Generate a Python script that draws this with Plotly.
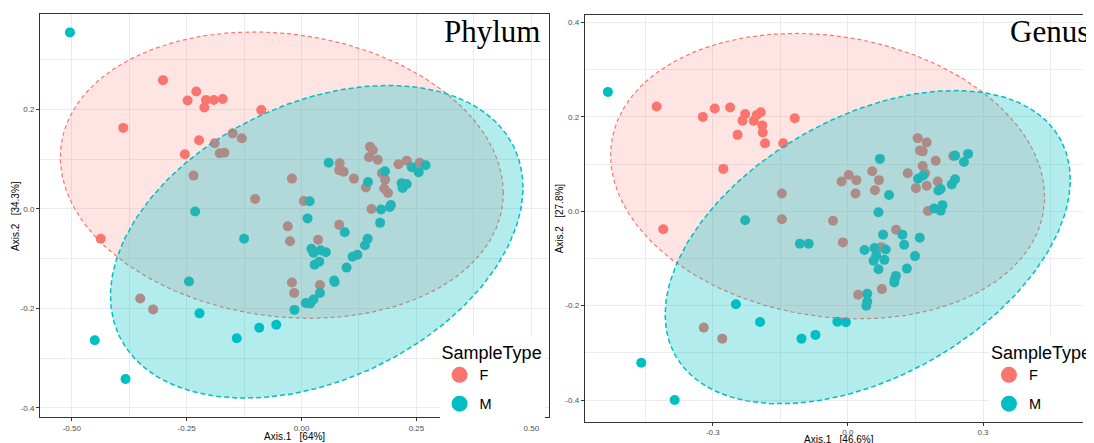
import numpy as np
import plotly.graph_objects as go

# ---------------- data ----------------
PHYLUM_F_X = [-0.3015, -0.229, -0.248, -0.208, -0.191, -0.1715, -0.2115, -0.0877, -0.388, -0.223,
              -0.15, -0.13, -0.189, -0.254, -0.178, -0.168, -0.235, -0.021, -0.101, 0.005,
              -0.437, -0.030, -0.025, 0.036, 0.082, -0.021, -0.016, 0.040, -0.351, -0.323,
              0.083, 0.082, 0.0915, 0.114, 0.140, 0.149, 0.155, 0.147, 0.166, 0.175,
              0.182, 0.180, 0.188, 0.152, 0.211, 0.229, 0.257]
PHYLUM_F_Y = [0.259, 0.236, 0.218, 0.219, 0.219, 0.221, 0.204, 0.199, 0.163, 0.138,
              0.152, 0.142, 0.132, 0.110, 0.112, 0.113, 0.067, 0.061, 0.020, 0.016,
              -0.060, -0.035, -0.065, -0.062, -0.032, -0.148, -0.169, -0.153, -0.180, -0.202,
              0.092, 0.078, 0.075, 0.061, 0.043, 0.125, 0.118, 0.104, 0.099, 0.072,
              0.059, 0.041, 0.032, 0.000, 0.090, 0.097, 0.093]

PHYLUM_M_X = [-0.504, 0.059, 0.1815, 0.1446, 0.240, 0.255, 0.270, 0.2177, 0.229, 0.220,
              0.1946, 0.192, 0.173, 0.0177, 0.013, -0.2315, -0.125, 0.094, 0.171, 0.144,
              0.138, 0.1215, 0.111, 0.098, 0.0215, 0.026, 0.0415, 0.053, 0.0285, 0.0385,
              0.071, 0.072, 0.040, 0.026, 0.009, 0.019, -0.0154, -0.245, -0.222, -0.092,
              -0.055, -0.141, -0.450, -0.383]
PHYLUM_M_Y = [0.355, 0.093, 0.0756, 0.054, 0.084, 0.074, 0.088, 0.0515, 0.050, 0.042,
              0.008, 0.004, -0.001, 0.0154, -0.019, -0.005, -0.060, -0.047, -0.028, -0.060,
              -0.073, -0.092, -0.096, -0.118, -0.080, -0.088, -0.083, -0.087, -0.112, -0.106,
              -0.144, -0.147, -0.169, -0.182, -0.189, -0.190, -0.203, -0.146, -0.210, -0.239,
              -0.233, -0.260, -0.264, -0.342]

GENUS_F_X = [-0.4247, -0.322, -0.2955, -0.2615, -0.228, -0.234, -0.209, -0.2025, -0.1935, -0.190,
             -0.189, -0.245, -0.184, -0.1436, -0.118, -0.2766, -0.410, -0.1466, -0.1466, -0.033,
             -0.014, 0.002, 0.019, 0.017, -0.011, 0.054, 0.069, 0.060, 0.107, 0.074,
             0.0756, 0.0227, 0.155, 0.175, 0.160, 0.166, 0.166, 0.195, 0.133, 0.1715,
             0.151, 0.175, 0.1995, 0.1776, 0.234, -0.320, -0.279]
GENUS_F_Y = [0.222, 0.200, 0.218, 0.220, 0.206, 0.192, 0.192, 0.204, 0.210, 0.182,
             0.167, 0.162, 0.144, 0.144, 0.197, 0.0898, -0.038, 0.0375, -0.017, -0.020,
             0.063, 0.077, 0.066, 0.0375, -0.066, 0.085, 0.066, 0.0445, -0.039, -0.076,
             -0.165, -0.177, 0.155, 0.146, 0.129, 0.127, 0.096, 0.107, 0.0806, 0.0806,
             0.049, 0.054, 0.063, 0.0007, 0.117, -0.2466, -0.270]

GENUS_M_X = [-0.5328, -0.4587, -0.3846, -0.228, -0.2486, -0.195, -0.1066, -0.087, -0.103, -0.072,
             -0.0234, -0.0045, 0.071, 0.0914, 0.068, 0.078, 0.037, 0.059, 0.084, 0.063,
             0.057, 0.081, 0.068, 0.121, 0.125, 0.1595, 0.149, 0.131, 0.1066, 0.104,
             0.103, 0.043, 0.043, 0.041, 0.1557, 0.167, 0.201, 0.206, 0.191, 0.206,
             0.210, 0.2305, 0.238, 0.238, 0.2577, 0.2668]
GENUS_M_Y = [0.253, -0.321, -0.400, -0.019, -0.197, -0.2346, -0.0686, -0.0686, -0.270, -0.262,
             -0.234, -0.235, 0.111, 0.0346, -0.002, -0.0495, -0.082, -0.078, -0.081, -0.093,
             -0.105, -0.103, -0.123, -0.0495, -0.071, -0.056, -0.095, -0.1215, -0.137, -0.144,
             -0.151, -0.175, -0.1915, -0.200, 0.069, 0.076, 0.044, 0.047, 0.0057, 0.0014,
             0.013, 0.057, 0.068, 0.118, 0.1046, 0.1216]

# ellipse parameters (centre and shape matrix)
PHYLUM_F_ELLIPSE_CENTER = [-0.043, 0.068]
PHYLUM_F_ELLIPSE_SHAPE = [[0.2323, -0.01735], [-0.01735, 0.0829]]
PHYLUM_M_ELLIPSE_CENTER = [0.033, -0.066]
PHYLUM_M_ELLIPSE_SHAPE = [[0.2014, 0.0489], [0.0489, 0.0988]]
GENUS_F_ELLIPSE_CENTER = [-0.045, 0.0745]
GENUS_F_ELLIPSE_SHAPE = [[0.2321, -0.0212], [-0.0212, 0.0915]]
GENUS_M_ELLIPSE_CENTER = [0.044, -0.076]
GENUS_M_ELLIPSE_SHAPE = [[0.2022, 0.0643], [0.0643, 0.1102]]

GROUPS = ["F", "M"]
PANEL_TITLES = ["Phylum", "Genus"]
PHYLUM_X_TICKS = [-0.5, -0.25, 0.0, 0.25, 0.5]
PHYLUM_X_TICKTEXT = ["-0.50", "-0.25", "0.00", "0.25", "0.50"]
PHYLUM_Y_TICKS = [-0.4, -0.2, 0.0, 0.2]
PHYLUM_Y_TICKTEXT = ["-0.4", "-0.2", "0.0", "0.2"]
GENUS_X_TICKS = [-0.3, 0.0, 0.3]
GENUS_X_TICKTEXT = ["-0.3", "0.0", "0.3"]
GENUS_Y_TICKS = [-0.4, -0.2, 0.0, 0.2, 0.4]
GENUS_Y_TICKTEXT = ["-0.4", "-0.2", "0.0", "0.2", "0.4"]
AXIS_TITLES = {
    "phylum": ("Axis.1\u00a0\u00a0\u00a0[64%]", "Axis.2\u00a0\u00a0\u00a0[34.3%]"),
    "genus": ("Axis.1\u00a0\u00a0\u00a0[46.6%]", "Axis.2\u00a0\u00a0\u00a0[27.8%]"),
}

# ---------------- styling / layout ----------------
# the page body has an 8px default margin, so the figure starts at (8, 8)
OFF = 8
W, H = 1094 - OFF, 443 - OFF
COL = {"F": "#F8766D", "M": "#00BFC4"}
FILL = {"F": "rgba(248,118,109,0.2)", "M": "rgba(0,191,196,0.3)"}
SANS = "Liberation Sans, Arial, sans-serif"
SERIF = "Liberation Serif, Times New Roman, serif"


def px(x):
    return (x - OFF) / W


def py(y):
    return 1 - (y - OFF) / H


def ellipse_path(center, shape, n=240):
    L = np.linalg.cholesky(np.array(shape))
    t = np.linspace(0, 2 * np.pi, n)
    pts = L @ np.vstack([np.cos(t), np.sin(t)])
    return pts[0] + center[0], pts[1] + center[1]


fig = go.Figure()

panels = [
    ("x", "y", "legend",
     {"F": (PHYLUM_F_X, PHYLUM_F_Y), "M": (PHYLUM_M_X, PHYLUM_M_Y)},
     {"F": (PHYLUM_F_ELLIPSE_CENTER, PHYLUM_F_ELLIPSE_SHAPE),
      "M": (PHYLUM_M_ELLIPSE_CENTER, PHYLUM_M_ELLIPSE_SHAPE)}),
    ("x2", "y2", "legend2",
     {"F": (GENUS_F_X, GENUS_F_Y), "M": (GENUS_M_X, GENUS_M_Y)},
     {"F": (GENUS_F_ELLIPSE_CENTER, GENUS_F_ELLIPSE_SHAPE),
      "M": (GENUS_M_ELLIPSE_CENTER, GENUS_M_ELLIPSE_SHAPE)}),
]

for xa, ya, leg, pts, ells in panels:
    for g in GROUPS:
        fig.add_trace(go.Scatter(
            x=pts[g][0], y=pts[g][1], mode="markers", xaxis=xa, yaxis=ya,
            marker=dict(size=10, color=COL[g], line=dict(width=0)),
            showlegend=False, hoverinfo="skip"))
    for g in GROUPS:
        ex, ey = ellipse_path(*ells[g])
        fig.add_trace(go.Scatter(
            x=ex, y=ey, mode="lines", xaxis=xa, yaxis=ya, fill="toself",
            fillcolor=FILL[g],
            line=dict(color=COL[g], width=1.2 if g == "F" else 1.5,
                      dash="4px,3px" if g == "F" else "5px,3px"),
            showlegend=False, hoverinfo="skip"))
    for g in GROUPS:
        fig.add_trace(go.Scatter(
            x=[None], y=[None], mode="markers", xaxis=xa, yaxis=ya,
            marker=dict(size=17, color=COL[g]), name=g, legend=leg,
            legendgroup=g, showlegend=True))

GRID = "#EBEBEB"
BORDER = "#333333"
TICKFONT = dict(family=SANS, size=8, color="#4D4D4D")


def axis(domain, rng, tickvals, ticktext, minor_dtick, anchor, mirror):
    return dict(domain=domain, range=rng, anchor=anchor, tickmode="array",
                tickvals=tickvals, ticktext=ticktext, showgrid=True,
                gridcolor=GRID, gridwidth=1, zeroline=False, showline=True,
                linecolor=BORDER, linewidth=1.2, mirror=mirror, ticks="outside",
                ticklen=3, tickwidth=1, tickcolor=BORDER, tickfont=TICKFONT,
                minor=dict(tickmode="linear", tick0=0, dtick=minor_dtick,
                           showgrid=True, gridcolor=GRID, gridwidth=0.6, ticks=""),
                fixedrange=True)


fig.update_layout(
    width=W, height=H,
    margin=dict(l=0, r=0, t=0, b=0),
    paper_bgcolor="white", plot_bgcolor="white",
    showlegend=True,
    xaxis=axis([px(40.4), px(554.3)], [-0.569, 0.538], PHYLUM_X_TICKS, PHYLUM_X_TICKTEXT,
               0.125, "y", True),
    yaxis=axis([py(417.3), py(14)], [-0.419, 0.392], PHYLUM_Y_TICKS, PHYLUM_Y_TICKTEXT,
               0.1, "x", True),
    xaxis2=axis([px(590.75), 1.0], [-0.584, 0.522], GENUS_X_TICKS, GENUS_X_TICKTEXT,
                0.15, "y2", True),
    yaxis2=axis([py(421.7), py(15)], [-0.446, 0.416], GENUS_Y_TICKS, GENUS_Y_TICKTEXT,
                0.1, "x2", False),
)

for name, lx in (("legend", 444), ("legend2", 999)):
    fig.update_layout({name: dict(
        x=px(lx), y=py(335.5), xanchor="left", yanchor="top",
        bgcolor="white", borderwidth=0,
        title=dict(text="SampleType", font=dict(family=SANS, size=18, color="black")),
        font=dict(family=SANS, size=14.5, color="black"),
        itemsizing="trace", traceorder="grouped", tracegroupgap=7)})

annotations = []
for title, tx in zip(PANEL_TITLES, (446, 1018)):
    annotations.append(dict(text=title, xref="paper", yref="paper", x=px(tx),
                            y=py(31.5), xanchor="left", yanchor="middle",
                            showarrow=False, font=dict(family=SERIF, size=31, color="black")))
for key, cx, cy, yx, yy in (("phylum", 297, 436.7, 15, 216), ("genus", 848, 439.5, 565, 218)):
    xt, yt = AXIS_TITLES[key]
    annotations.append(dict(text=xt, xref="paper", yref="paper", x=px(cx), y=py(cy),
                            xanchor="center", yanchor="middle", showarrow=False,
                            font=dict(family=SANS, size=10, color="black")))
    annotations.append(dict(text=yt, xref="paper", yref="paper", x=px(yx), y=py(yy),
                            xanchor="center", yanchor="middle", showarrow=False, textangle=-90,
                            font=dict(family=SANS, size=10, color="black")))
fig.update_layout(annotations=annotations)

fig.write_html("out.html", config={"displayModeBar": False})
